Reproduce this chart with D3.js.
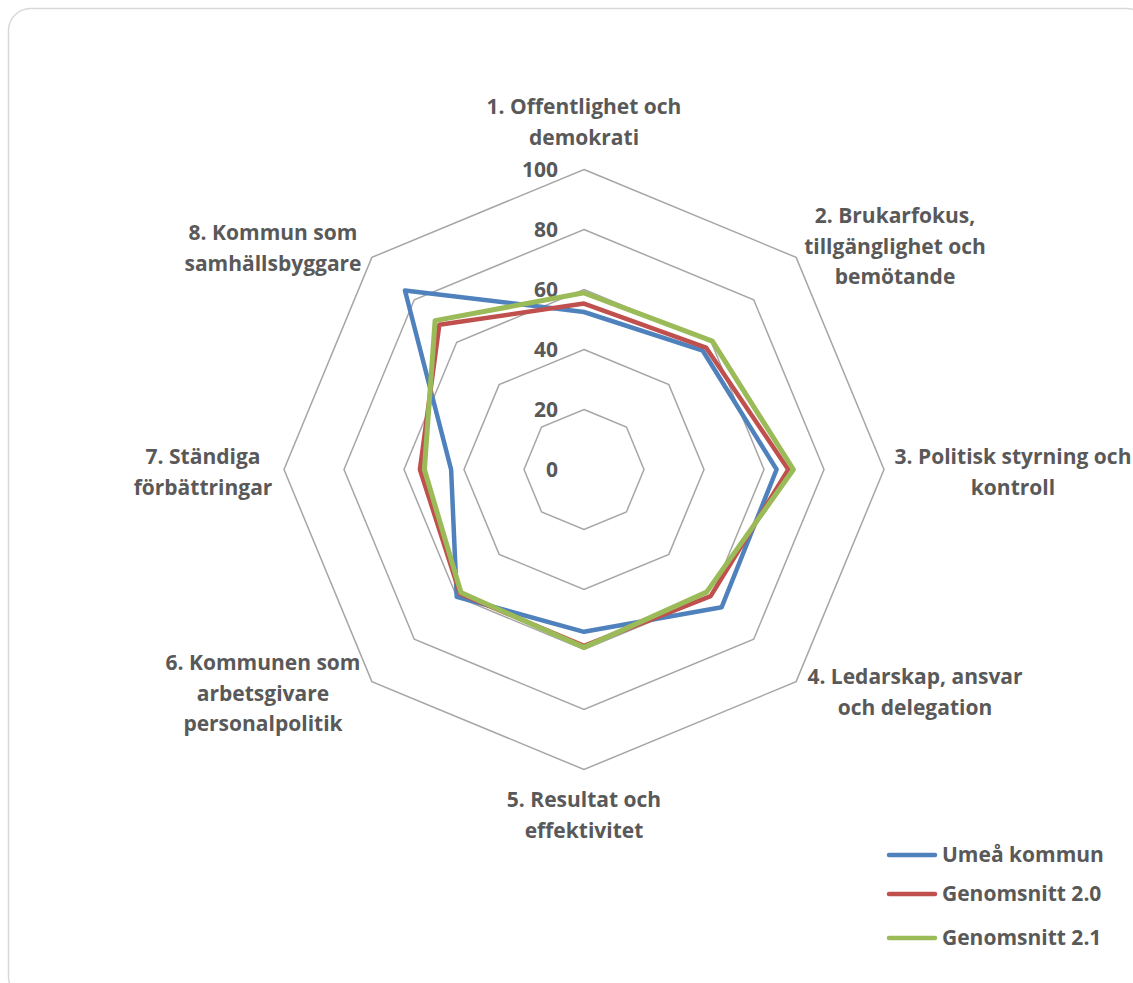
<!DOCTYPE html>
<html>
<head>
<meta charset="utf-8">
<script src="https://cdn.jsdelivr.net/npm/d3@7"></script>
<style>
  html, body { margin: 0; padding: 0; background: #fff; }
  svg { display: block; }
  text { font-family: "Open Sans", Lato, sans-serif; font-weight: bold; fill: #595959; }
</style>
</head>
<body>
<svg id="chart" width="1133" height="983"></svg>
<script>
// Axis categories (wrapped into display lines)
const categories = [
  ["1. Offentlighet och", "demokrati"],
  ["2. Brukarfokus,", "tillgänglighet och", "bemötande"],
  ["3. Politisk styrning och", "kontroll"],
  ["4. Ledarskap, ansvar", "och delegation"],
  ["5. Resultat och", "effektivitet"],
  ["6. Kommunen som", "arbetsgivare", "personalpolitik"],
  ["7. Ständiga", "förbättringar"],
  ["8. Kommun som", "samhällsbyggare"]
];

const seriesNames = ["Umeå kommun", "Genomsnitt 2.0", "Genomsnitt 2.1"];
const umea   = [52.5, 56.0, 64.2, 64.9, 54.1, 60.0, 44.3, 84.4];
const snitt20 = [55.3, 57.5, 68.1, 59.7, 58.8, 58.5, 54.7, 68.2];
const snitt21 = [58.9, 60.5, 69.8, 57.8, 59.3, 58.0, 53.2, 70.2];
const tickValues = [0, 20, 40, 60, 80, 100];

const colors = ["#4F81BD", "#C0504D", "#9BBB59"];
const widths = [4.5, 4.5, 5];

const svg = d3.select("#chart");
const cx = 584, cy = 469.5;

// chart area frame
svg.append("rect")
  .attr("x", 8.5).attr("y", 8.5)
  .attr("width", 1140).attr("height", 990)
  .attr("rx", 22).attr("ry", 22)
  .attr("fill", "#fff").attr("stroke", "#D9D9D9").attr("stroke-width", 1.5);

const r = d3.scaleLinear().domain([0, 100]).range([0, 300]);
const n = categories.length;
const angle = d3.scaleLinear().domain([0, n]).range([0, 2 * Math.PI]);

const g = svg.append("g").attr("transform", `translate(${cx},${cy})`);

function pt(i, v) {
  const a = angle(i);
  return [r(v) * Math.sin(a), -r(v) * Math.cos(a)];
}

// octagonal grid rings
const ringLine = d3.line().curve(d3.curveLinearClosed);
tickValues.filter(t => t > 0).forEach(t => {
  g.append("path")
    .attr("d", ringLine(d3.range(n).map(i => pt(i, t))))
    .attr("fill", "none")
    .attr("stroke", "#A6A6A6")
    .attr("stroke-width", 1.5);
});

// value labels along the top spoke
tickValues.forEach(t => {
  g.append("text")
    .attr("x", -26)
    .attr("y", -r(t))
    .attr("dy", "0.35em")
    .attr("text-anchor", "end")
    .style("font-size", "21px")
    .text(t);
});

// series polygons (last series drawn on top)
[umea, snitt20, snitt21].forEach((vals, k) => {
  g.append("path")
    .attr("d", ringLine(vals.map((v, i) => pt(i, v))))
    .attr("fill", "none")
    .attr("stroke", colors[k])
    .attr("stroke-width", widths[k])
    .attr("stroke-linejoin", "round");
});

// category labels
const labelPos = [
  [584, 107], [895, 216], [1013, 457], [915, 677],
  [584, 800], [263, 663], [203, 457], [273, 233]
];
categories.forEach((lines, i) => {
  const t = svg.append("text")
    .attr("text-anchor", "middle")
    .style("font-size", "21px");
  lines.forEach((ln, j) => {
    t.append("tspan")
      .attr("x", labelPos[i][0])
      .attr("y", labelPos[i][1] + j * 30.5)
      .attr("dy", "0.35em")
      .text(ln);
  });
});

// legend
const legendY = [855, 894, 938];
seriesNames.forEach((name, k) => {
  svg.append("line")
    .attr("x1", 889).attr("x2", 935)
    .attr("y1", legendY[k]).attr("y2", legendY[k])
    .attr("stroke", colors[k]).attr("stroke-width", 4.5)
    .attr("stroke-linecap", "round");
  svg.append("text")
    .attr("x", 942).attr("y", legendY[k])
    .attr("dy", "0.35em")
    .style("font-size", "21px")
    .text(name);
});
</script>
</body>
</html>
